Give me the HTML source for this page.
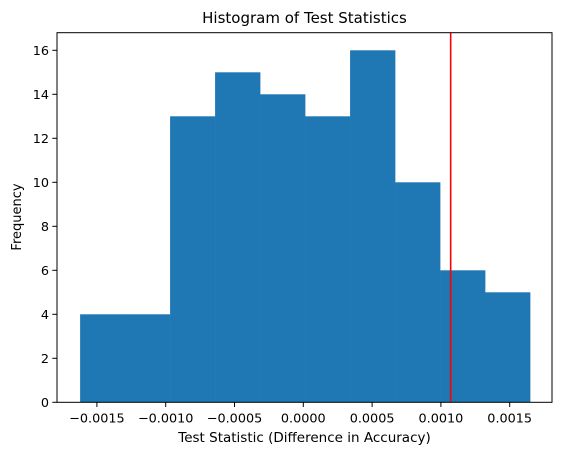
<!DOCTYPE html>
<html><head><meta charset="utf-8"><style>
body{margin:0;background:#fff}
text{font-family:"DejaVu Sans","Liberation Sans",sans-serif;fill:#000}
</style></head><body>
<svg id="chart" width="563" height="455" xmlns="http://www.w3.org/2000/svg">
<text x="304.5" y="23" text-anchor="middle" font-size="15">Histogram of Test Statistics</text>
<g id="bars"></g>
<g id="xaxis"></g>
<g id="yaxis"></g>
<rect x="57" y="32.7" width="495" height="369.6" fill="none" stroke="#000" stroke-width="1"/>
<text x="304.5" y="442" text-anchor="middle" font-size="13.5">Test Statistic (Difference in Accuracy)</text>
<text transform="translate(21,217) rotate(-90)" text-anchor="middle" font-size="13">Frequency</text>
</svg>
<script>
const counts=[4,4,13,15,14,13,16,10,6,5];
const binStart=-0.001622, binEnd=0.001648;
const observed=0.001071;
const xTicks=[-0.0015,-0.0010,-0.0005,0.0000,0.0005,0.0010,0.0015];
const xTickLabels=["−0.0015","−0.0010","−0.0005","0.0000","0.0005","0.0010","0.0015"];
const yTicks=[0,2,4,6,8,10,12,14,16];
const NS="http://www.w3.org/2000/svg";
const X=v=>303.3+v*137600;
const Y=v=>402.3-v*22.0;
const bars=document.getElementById('bars'),xa=document.getElementById('xaxis'),ya=document.getElementById('yaxis');
function mk(t,a,p){const e=document.createElementNS(NS,t);for(const k in a)e.setAttribute(k,a[k]);p.appendChild(e);return e;}
const w=(binEnd-binStart)/counts.length;
counts.forEach((c,i)=>{
 const x0=X(binStart+i*w),x1=X(binStart+(i+1)*w);
 const r=mk('rect',{x:x0,y:Y(c),width:x1-x0+0.3,height:Y(0)-Y(c),fill:'#1f77b4'},bars);
 
 
});
const l=mk('line',{x1:X(observed),x2:X(observed),y1:32.7,y2:402.3,stroke:'red','stroke-width':1.6},bars);


xTicks.forEach((v,i)=>{
 mk('line',{x1:X(v),x2:X(v),y1:402.3,y2:407,stroke:'#000'},xa);
 const t=mk('text',{x:X(v),y:422.5,'text-anchor':'middle','font-size':'12.8'},xa);
 t.textContent=xTickLabels[i];
 
 
});
yTicks.forEach(v=>{
 mk('line',{x1:52.3,x2:57,y1:Y(v),y2:Y(v),stroke:'#000'},ya);
 const t=mk('text',{x:49,y:Y(v)+4.6,'text-anchor':'end','font-size':'12.8'},ya);
 t.textContent=v;
 
 
});
</script>
</body></html>
